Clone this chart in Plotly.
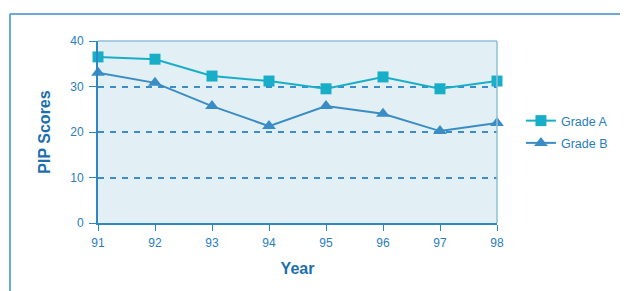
import plotly.graph_objects as go

years = [91, 92, 93, 94, 95, 96, 97, 98]
grade_a = [36.5, 36.0, 32.3, 31.2, 29.5, 32.1, 29.5, 31.2]
grade_b = [33.0, 30.8, 25.7, 21.3, 25.7, 24.0, 20.2, 22.0]
y_ticks = [0, 10, 20, 30, 40]

axis_blue = "#2f86c4"
text_blue = "#2a7dbd"
title_blue = "#1b6fae"

fig = go.Figure()
fig.add_trace(go.Scatter(
    x=years, y=grade_a, name="Grade A", mode="lines+markers", legendgroup="a",
    line=dict(color="#19aec8", width=2),
    marker=dict(symbol="square", size=11, color="#19aec8"),
    cliponaxis=False,
))
fig.add_trace(go.Scatter(
    x=years, y=grade_b, name="Grade B", mode="lines+markers", legendgroup="b",
    line=dict(color="#3a8cc5", width=2),
    marker=dict(symbol="triangle-up", size=12, color="#3a8cc5"),
    cliponaxis=False,
))

fig.update_layout(
    width=628, height=291,
    margin=dict(l=90, r=139, t=33, b=76, autoexpand=False),
    paper_bgcolor="white",
    plot_bgcolor="#e2eff4",
    font=dict(family="Liberation Sans, Arial, sans-serif", color=text_blue, size=12),
    showlegend=True,
    legend=dict(x=1.06, y=0.5, xanchor="left", yanchor="middle",
                font=dict(size=12.5, color=text_blue), bgcolor="rgba(0,0,0,0)",
                itemwidth=30, traceorder="grouped", tracegroupgap=3),
    xaxis=dict(
        range=[91, 98], tickvals=years, ticks="outside", ticklen=6,
        tickcolor=axis_blue, showline=True, linecolor=axis_blue, linewidth=2,
        showgrid=False, zeroline=False, ticklabelstandoff=2,
        title=dict(text="<b>Year</b>", font=dict(size=16, color=title_blue), standoff=13),
        tickfont=dict(size=12, color=text_blue),
    ),
    yaxis=dict(
        range=[0, 40], tickvals=y_ticks, ticks="outside", ticklen=7,
        tickcolor=axis_blue, showline=True, linecolor=axis_blue, linewidth=2,
        showgrid=True, gridcolor="#3a8dc8", griddash="6px,6px", gridwidth=1.5,
        zeroline=False, ticklabelstandoff=3,
        title=dict(text="<b>PIP Scores</b>", font=dict(size=16, color=title_blue), standoff=16),
        tickfont=dict(size=12, color=text_blue),
    ),
    shapes=[
        dict(type="line", xref="x domain", yref="y domain", x0=0, x1=1, y0=1, y1=1,
             line=dict(color="#8fbfdc", width=1.5), layer="above"),
        dict(type="line", xref="x domain", yref="y domain", x0=1, x1=1, y0=0, y1=1,
             line=dict(color="#8fbfdc", width=1.5), layer="above"),
        dict(type="line", xref="paper", yref="paper", x0=-0.2206, x1=1.4, y0=1.148, y1=1.148,
             line=dict(color="#3b8cc8", width=1.5)),
        dict(type="line", xref="paper", yref="paper", x0=-0.2206, x1=-0.2206, y0=1.148, y1=-0.45,
             line=dict(color="#3b8cc8", width=1.5)),
    ],
)

fig.write_html("out.html")
